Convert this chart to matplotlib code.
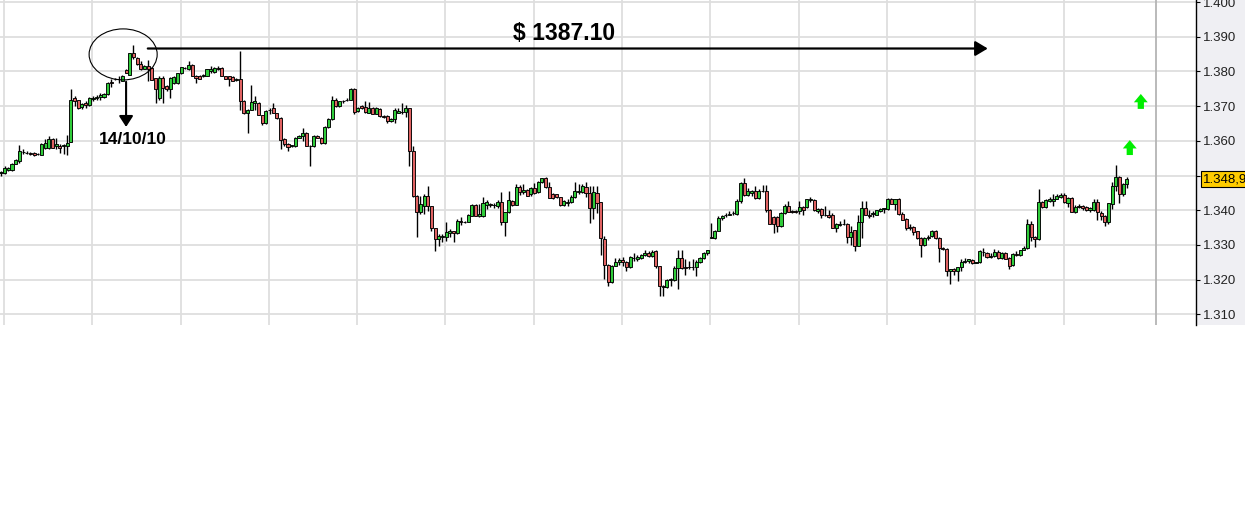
import matplotlib
matplotlib.use("Agg")
import matplotlib.pyplot as plt
import matplotlib.transforms as mtransforms
from matplotlib.patches import Ellipse, Rectangle
import numpy as np

# ---------------- data (hourly candles) ----------------
opens = [
 1.3508,1.3508,1.3515,1.3515,1.3534,1.3541,1.3567,1.3566,1.3565,1.3565,
 1.3561,1.3560,1.3580,1.3580,1.3606,1.3584,1.3586,1.3584,1.3586,1.3596,
 1.3722,1.3717,1.3698,1.3710,1.3702,1.3721,1.3724,1.3727,1.3727,1.3734,
 1.3769,1.3779,1.3777,1.3772,1.3804,1.3791,1.3854,1.3839,1.3820,1.3808,
 1.3815,1.3811,1.3782,1.3724,1.3782,1.3758,1.3748,1.3767,1.3767,1.3794,
 1.3811,1.3806,1.3819,1.3788,1.3788,1.3788,1.3788,1.3801,1.3798,1.3811,
 1.3811,1.3786,1.3786,1.3785,1.3774,1.3779,1.3716,1.3679,1.3690,1.3710,
 1.3710,1.3673,1.3650,1.3690,1.3695,1.3679,1.3666,1.3606,1.3592,1.3585,
 1.3584,1.3609,1.3613,1.3623,1.3584,1.3584,1.3615,1.3609,1.3594,1.3640,
 1.3663,1.3719,1.3700,1.3714,1.3718,1.3719,1.3750,1.3685,1.3700,1.3698,
 1.3681,1.3695,1.3678,1.3692,1.3671,1.3671,1.3656,1.3663,1.3681,1.3684,
 1.3683,1.3694,1.3572,1.3442,1.3394,1.3413,1.3442,1.3411,1.3348,1.3317,
 1.3322,1.3322,1.3334,1.3339,1.3334,1.3370,1.3366,1.3367,1.3384,1.3415,
 1.3384,1.3384,1.3415,1.3418,1.3415,1.3413,1.3423,1.3367,1.3394,1.3426,
 1.3415,1.3466,1.3452,1.3459,1.3447,1.3463,1.3452,1.3481,1.3492,1.3466,
 1.3447,1.3446,1.3437,1.3416,1.3421,1.3423,1.3437,1.3452,1.3452,1.3467,
 1.3450,1.3407,1.3450,1.3423,1.3317,1.3243,1.3192,1.3240,1.3250,1.3256,
 1.3251,1.3236,1.3262,1.3260,1.3262,1.3271,1.3277,1.3267,1.3282,1.3238,
 1.3182,1.3179,1.3200,1.3200,1.3234,1.3262,1.3236,1.3236,1.3236,1.3236,
 1.3250,1.3262,1.3277,1.3320,1.3320,1.3341,1.3378,1.3385,1.3387,1.3391,
 1.3390,1.3426,1.3479,1.3445,1.3450,1.3454,1.3436,1.3455,1.3455,1.3402,
 1.3381,1.3381,1.3354,1.3392,1.3413,1.3397,1.3397,1.3397,1.3410,1.3410,
 1.3429,1.3429,1.3397,1.3404,1.3386,1.3387,1.3385,1.3349,1.3358,1.3359,
 1.3361,1.3323,1.3342,1.3298,1.3365,1.3407,1.3387,1.3390,1.3387,1.3397,
 1.3404,1.3404,1.3433,1.3417,1.3433,1.3390,1.3375,1.3352,1.3352,1.3339,
 1.3320,1.3301,1.3320,1.3325,1.3339,1.3320,1.3291,1.3288,1.3224,1.3231,
 1.3224,1.3236,1.3252,1.3253,1.3256,1.3248,1.3250,1.3279,1.3277,1.3265,
 1.3267,1.3281,1.3262,1.3277,1.3262,1.3243,1.3274,1.3272,1.3286,1.3291,
 1.3359,1.3323,1.3317,1.3423,1.3410,1.3426,1.3427,1.3433,1.3439,1.3443,
 1.3422,1.3436,1.3396,1.3408,1.3412,1.3410,1.3400,1.3400,1.3425,1.3393,
 1.3384,1.3366,1.3417,1.3470,1.3497,1.3446,1.3475]

highs = [
 1.3512,1.3527,1.3524,1.3536,1.3548,1.3589,1.3575,1.3570,1.3568,1.3567,
 1.3566,1.3594,1.3604,1.3613,1.3608,1.3609,1.3590,1.3592,1.3618,1.3748,
 1.3729,1.3719,1.3710,1.3714,1.3727,1.3729,1.3731,1.3738,1.3738,1.3769,
 1.3777,1.3782,1.3786,1.3791,1.3806,1.3854,1.3875,1.3842,1.3830,1.3819,
 1.3832,1.3813,1.3782,1.3786,1.3786,1.3762,1.3784,1.3787,1.3796,1.3814,
 1.3814,1.3829,1.3821,1.3790,1.3790,1.3793,1.3808,1.3815,1.3812,1.3815,
 1.3813,1.3788,1.3788,1.3786,1.3782,1.3859,1.3719,1.3692,1.3762,1.3729,
 1.3712,1.3675,1.3689,1.3695,1.3710,1.3681,1.3668,1.3609,1.3594,1.3588,
 1.3611,1.3617,1.3637,1.3625,1.3588,1.3617,1.3618,1.3611,1.3642,1.3665,
 1.3729,1.3722,1.3716,1.3719,1.3722,1.3752,1.3752,1.3698,1.3702,1.3714,
 1.3711,1.3697,1.3697,1.3694,1.3673,1.3673,1.3665,1.3694,1.3694,1.3709,
 1.3704,1.3696,1.3586,1.3444,1.3442,1.3447,1.3471,1.3413,1.3350,1.3332,
 1.3332,1.3365,1.3346,1.3341,1.3375,1.3380,1.3369,1.3388,1.3418,1.3417,
 1.3418,1.3437,1.3428,1.3420,1.3421,1.3428,1.3452,1.3396,1.3454,1.3428,
 1.3476,1.3473,1.3476,1.3461,1.3466,1.3479,1.3483,1.3494,1.3495,1.3481,
 1.3449,1.3448,1.3439,1.3428,1.3433,1.3444,1.3481,1.3476,1.3476,1.3481,
 1.3471,1.3471,1.3471,1.3425,1.3325,1.3245,1.3242,1.3262,1.3262,1.3265,
 1.3253,1.3267,1.3277,1.3272,1.3273,1.3286,1.3282,1.3284,1.3284,1.3240,
 1.3184,1.3202,1.3205,1.3240,1.3286,1.3286,1.3258,1.3253,1.3258,1.3256,
 1.3265,1.3281,1.3286,1.3363,1.3344,1.3383,1.3387,1.3392,1.3397,1.3397,
 1.3431,1.3481,1.3493,1.3464,1.3458,1.3469,1.3460,1.3474,1.3474,1.3404,
 1.3383,1.3383,1.3394,1.3419,1.3426,1.3402,1.3402,1.3427,1.3413,1.3433,
 1.3437,1.3431,1.3407,1.3407,1.3412,1.3400,1.3392,1.3363,1.3368,1.3375,
 1.3363,1.3354,1.3344,1.3387,1.3426,1.3426,1.3402,1.3397,1.3402,1.3405,
 1.3407,1.3436,1.3436,1.3433,1.3435,1.3394,1.3377,1.3359,1.3354,1.3341,
 1.3322,1.3323,1.3330,1.3344,1.3342,1.3323,1.3294,1.3290,1.3232,1.3233,
 1.3237,1.3259,1.3262,1.3260,1.3258,1.3252,1.3285,1.3291,1.3279,1.3277,
 1.3288,1.3285,1.3279,1.3279,1.3264,1.3277,1.3282,1.3286,1.3298,1.3375,
 1.3368,1.3325,1.3460,1.3426,1.3433,1.3438,1.3446,1.3446,1.3451,1.3451,
 1.3439,1.3438,1.3414,1.3417,1.3414,1.3412,1.3410,1.3433,1.3432,1.3398,
 1.3386,1.3422,1.3481,1.3529,1.3499,1.3478,1.3497]

lows = [
 1.3500,1.3503,1.3512,1.3513,1.3532,1.3536,1.3563,1.3562,1.3560,1.3557,
 1.3558,1.3558,1.3575,1.3577,1.3578,1.3575,1.3565,1.3562,1.3560,1.3596,
 1.3700,1.3693,1.3692,1.3695,1.3700,1.3715,1.3719,1.3719,1.3724,1.3731,
 1.3756,1.3775,1.3767,1.3772,1.3794,1.3789,1.3835,1.3818,1.3804,1.3806,
 1.3772,1.3775,1.3710,1.3719,1.3710,1.3743,1.3724,1.3765,1.3765,1.3792,
 1.3808,1.3804,1.3788,1.3767,1.3777,1.3785,1.3786,1.3794,1.3796,1.3804,
 1.3786,1.3777,1.3758,1.3772,1.3772,1.3690,1.3676,1.3623,1.3688,1.3690,
 1.3673,1.3647,1.3648,1.3676,1.3680,1.3664,1.3575,1.3584,1.3570,1.3582,
 1.3582,1.3607,1.3599,1.3584,1.3527,1.3582,1.3607,1.3592,1.3592,1.3638,
 1.3661,1.3698,1.3698,1.3709,1.3715,1.3717,1.3676,1.3683,1.3693,1.3681,
 1.3679,1.3678,1.3676,1.3669,1.3667,1.3652,1.3654,1.3652,1.3679,1.3678,
 1.3668,1.3527,1.3437,1.3322,1.3389,1.3389,1.3399,1.3341,1.3283,1.3296,
 1.3309,1.3312,1.3322,1.3308,1.3332,1.3356,1.3364,1.3365,1.3383,1.3383,
 1.3380,1.3380,1.3404,1.3409,1.3406,1.3406,1.3356,1.3327,1.3392,1.3413,
 1.3415,1.3444,1.3447,1.3440,1.3442,1.3448,1.3450,1.3479,1.3464,1.3434,
 1.3433,1.3436,1.3413,1.3411,1.3413,1.3421,1.3434,1.3447,1.3450,1.3438,
 1.3363,1.3375,1.3392,1.3272,1.3202,1.3181,1.3190,1.3238,1.3243,1.3238,
 1.3224,1.3234,1.3253,1.3253,1.3258,1.3269,1.3265,1.3265,1.3234,1.3152,
 1.3154,1.3177,1.3181,1.3195,1.3173,1.3231,1.3214,1.3231,1.3227,1.3211,
 1.3248,1.3260,1.3272,1.3320,1.3317,1.3339,1.3373,1.3381,1.3385,1.3387,
 1.3387,1.3421,1.3442,1.3442,1.3442,1.3433,1.3433,1.3452,1.3394,1.3359,
 1.3335,1.3336,1.3352,1.3390,1.3394,1.3392,1.3392,1.3390,1.3385,1.3407,
 1.3423,1.3397,1.3392,1.3377,1.3383,1.3378,1.3349,1.3336,1.3354,1.3356,
 1.3306,1.3301,1.3282,1.3296,1.3320,1.3385,1.3378,1.3381,1.3385,1.3396,
 1.3392,1.3402,1.3417,1.3402,1.3387,1.3371,1.3344,1.3344,1.3330,1.3317,
 1.3265,1.3298,1.3315,1.3323,1.3317,1.3250,1.3286,1.3209,1.3188,1.3214,
 1.3195,1.3224,1.3248,1.3248,1.3246,1.3247,1.3248,1.3267,1.3262,1.3262,
 1.3265,1.3259,1.3259,1.3258,1.3231,1.3240,1.3267,1.3267,1.3285,1.3288,
 1.3310,1.3294,1.3313,1.3406,1.3407,1.3423,1.3412,1.3431,1.3436,1.3422,
 1.3410,1.3395,1.3391,1.3405,1.3401,1.3398,1.3396,1.3397,1.3372,1.3372,
 1.3355,1.3360,1.3403,1.3456,1.3420,1.3441,1.3465]

closes = [
 1.3510,1.3522,1.3522,1.3534,1.3546,1.3570,1.3568,1.3565,1.3562,1.3560,
 1.3563,1.3592,1.3594,1.3604,1.3580,1.3592,1.3580,1.3588,1.3594,1.3719,
 1.3714,1.3695,1.3705,1.3702,1.3724,1.3722,1.3725,1.3731,1.3734,1.3767,
 1.3768,1.3778,1.3778,1.3786,1.3796,1.3852,1.3842,1.3820,1.3806,1.3817,
 1.3806,1.3775,1.3748,1.3782,1.3753,1.3748,1.3782,1.3785,1.3794,1.3812,
 1.3810,1.3819,1.3788,1.3782,1.3779,1.3791,1.3806,1.3808,1.3811,1.3806,
 1.3786,1.3779,1.3777,1.3773,1.3779,1.3714,1.3679,1.3690,1.3711,1.3714,
 1.3673,1.3650,1.3687,1.3689,1.3681,1.3666,1.3602,1.3592,1.3583,1.3587,
 1.3609,1.3615,1.3623,1.3584,1.3586,1.3615,1.3609,1.3594,1.3640,1.3663,
 1.3719,1.3700,1.3714,1.3715,1.3719,1.3750,1.3684,1.3695,1.3695,1.3683,
 1.3695,1.3678,1.3695,1.3671,1.3669,1.3656,1.3663,1.3689,1.3685,1.3683,
 1.3694,1.3572,1.3442,1.3394,1.3418,1.3442,1.3411,1.3348,1.3317,1.3327,
 1.3325,1.3336,1.3339,1.3334,1.3370,1.3365,1.3367,1.3386,1.3415,1.3384,
 1.3389,1.3420,1.3423,1.3416,1.3416,1.3423,1.3367,1.3394,1.3430,1.3415,
 1.3466,1.3452,1.3459,1.3442,1.3463,1.3450,1.3481,1.3492,1.3466,1.3435,
 1.3435,1.3437,1.3416,1.3426,1.3425,1.3437,1.3455,1.3455,1.3469,1.3450,
 1.3407,1.3453,1.3421,1.3320,1.3243,1.3192,1.3240,1.3252,1.3257,1.3251,
 1.3236,1.3265,1.3263,1.3265,1.3272,1.3277,1.3267,1.3279,1.3238,1.3181,
 1.3179,1.3200,1.3201,1.3234,1.3262,1.3234,1.3234,1.3235,1.3236,1.3250,
 1.3262,1.3277,1.3285,1.3323,1.3341,1.3378,1.3383,1.3387,1.3390,1.3392,
 1.3426,1.3479,1.3445,1.3454,1.3455,1.3436,1.3455,1.3456,1.3400,1.3361,
 1.3361,1.3354,1.3392,1.3413,1.3396,1.3394,1.3396,1.3410,1.3402,1.3431,
 1.3431,1.3400,1.3404,1.3386,1.3387,1.3381,1.3349,1.3361,1.3361,1.3360,
 1.3323,1.3337,1.3298,1.3365,1.3407,1.3387,1.3383,1.3391,1.3400,1.3404,
 1.3405,1.3433,1.3419,1.3431,1.3389,1.3373,1.3349,1.3349,1.3336,1.3320,
 1.3301,1.3320,1.3323,1.3341,1.3320,1.3290,1.3288,1.3224,1.3230,1.3224,
 1.3236,1.3252,1.3255,1.3258,1.3248,1.3251,1.3282,1.3280,1.3264,1.3269,
 1.3281,1.3262,1.3277,1.3260,1.3240,1.3274,1.3272,1.3285,1.3291,1.3359,
 1.3323,1.3317,1.3423,1.3410,1.3429,1.3433,1.3433,1.3441,1.3443,1.3424,
 1.3436,1.3396,1.3410,1.3412,1.3405,1.3400,1.3405,1.3425,1.3396,1.3384,
 1.3366,1.3420,1.3470,1.3497,1.3446,1.3475,1.3489]

ytick_values = [1.310, 1.320, 1.330, 1.340, 1.350, 1.360, 1.370, 1.380, 1.390, 1.400]
ytick_labels = ["1.310", "1.320", "1.330", "1.340", "1.350", "1.360", "1.370", "1.380", "1.390", "1.400"]
last_price = 1.3489
last_price_label = "1.348,9"
peak_label = "$ 1387.10"
peak_level = 1.3866
date_label = "14/10/10"
signal_arrows_x = [306.8, 309.8]
signal_arrows_y = [(1.3559, 1.3602), (1.3692, 1.3735)]

# ---------------- styling ----------------
W, H = 1245, 525
fig = plt.figure(figsize=(W / 100, H / 100), dpi=100)
fig.patch.set_facecolor("white")
plot_w, plot_h = 1196, 325
ax = fig.add_axes([0, 1 - plot_h / H, plot_w / W, plot_h / H])

# gray panel behind price scale
fig.patches.append(Rectangle((plot_w / W, 1 - plot_h / H), 1 - plot_w / W, plot_h / H,
                             transform=fig.transFigure, facecolor="#efeff3",
                             edgecolor="none", zorder=-5))

n = len(opens)
x = np.arange(n)
o = np.array(opens); h = np.array(highs); l = np.array(lows); c = np.array(closes)

ax.set_xlim(-0.27, 324.8)
ax.set_ylim(1.30692, 1.40058)

# grid
for k in range(13):
    ax.axvline(0.8 + 24 * k, color="#dedede", lw=1.3, zorder=0)
for v in ytick_values:
    ax.axhline(v, color="#dedede", lw=1.3, zorder=0)
ax.axvline(313.9, color="#b4b4b4", lw=1.3, zorder=0)

# candles
up = c >= o
colors = np.where(up, "#2fcc3a", "#e06262")
ax.vlines(x, l, h, color="black", lw=1.0, zorder=2)
body_bottom = np.minimum(o, c)
body_h = np.maximum(np.abs(c - o), 0.00003)
ax.bar(x, body_h, bottom=body_bottom, width=0.84, color=colors,
       edgecolor="black", linewidth=0.65, zorder=3)

# axes styling
for s in ["left", "top", "bottom"]:
    ax.spines[s].set_visible(False)
ax.spines["right"].set_color("black")
ax.spines["right"].set_linewidth(1.0)
ax.yaxis.tick_right()
ax.set_yticks(ytick_values)
ax.set_yticklabels(ytick_labels, fontsize=9.5, color="#222222", family="Liberation Sans")
ax.tick_params(axis="y", direction="out", length=3, width=0.8, pad=2)
ax.set_xticks([])

# last price tag
trans = mtransforms.blended_transform_factory(ax.transAxes, ax.transData)
ax.text(1.0055, last_price, last_price_label, transform=trans, ha="left", va="center",
        fontsize=9.5, family="Liberation Sans", color="black", zorder=10, clip_on=False,
        bbox=dict(boxstyle="square,pad=0.15", fc="#ffcc00", ec="black", lw=0.8))

# annotations
ax.add_patch(Ellipse((33.2, 1.3849), 18.5, 0.0147, fill=False, ec="black", lw=0.8, zorder=5))
ax.annotate("", xy=(268.2, peak_level), xytext=(39.9, peak_level),
            arrowprops=dict(arrowstyle="-|>,head_length=0.75,head_width=0.45",
                            color="black", lw=1.6, shrinkA=0, shrinkB=0), zorder=6)
ax.text(153.0, 1.38905, peak_label, ha="center", va="baseline", fontsize=16.5,
        fontweight="bold", family="Liberation Sans", zorder=6)
ax.annotate("", xy=(34.0, 1.3640), xytext=(34.0, 1.3770),
            arrowprops=dict(arrowstyle="-|>,head_length=0.65,head_width=0.42",
                            color="black", lw=1.5, shrinkA=0, shrinkB=0), zorder=6)
ax.text(35.7, 1.35908, date_label, ha="center", va="baseline", fontsize=12.5,
        fontweight="bold", family="Liberation Sans", zorder=6)

for xa, (yb, yt) in zip(signal_arrows_x, signal_arrows_y):
    ax.annotate("", xy=(xa, yt), xytext=(xa, yb),
                arrowprops=dict(arrowstyle="simple,head_length=0.6,head_width=1.0,tail_width=0.45",
                                fc="#00ee00", ec="none", mutation_scale=10,
                                shrinkA=0, shrinkB=0), zorder=6)

fig.savefig("out.png", dpi=100, facecolor="white")
